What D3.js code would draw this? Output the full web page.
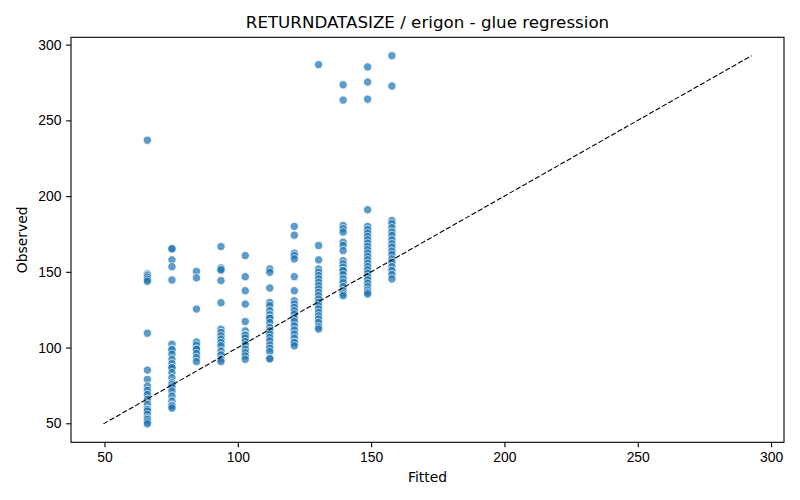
<!DOCTYPE html>
<html>
<head>
  <meta charset="utf-8">
  <script src="https://d3js.org/d3.v7.min.js"></script>
  <style>
    body { margin: 0; background: white; }
    svg { font-family: "DejaVu Sans", sans-serif; }
    .tick text { font-size: 13.9px; fill: #000; }
    .tick line { stroke: #000; stroke-width: 1.1px; }
    .domain { display: none; }
  </style>
</head>
<body>
<script>
  // fitted level of each column
  var fitted = [66.1, 75.3, 84.5, 93.7, 102.8, 112.0, 121.2, 130.3, 139.5, 148.7, 157.8];

  // observed values, one array per fitted level
  var obs1 = [236.9, 148.6, 147.5, 146.4, 145, 143.7, 109.5, 85.1, 79, 74.5, 71.7, 69, 65.7, 62.4, 59.1, 59.1, 58, 55.8, 53.5, 52.5, 51, 49.6];
  var obs2 = [165.2, 165.2, 157.9, 153.4, 144.6, 102.2, 98.9, 98.5, 95.6, 92.2, 89.3, 86.7, 86.7, 83.4, 80, 76.7, 75.5, 73.9, 71.2, 67.9, 64.6, 62, 61.3, 60];
  var obs3 = [150.3, 146, 125.4, 103.7, 101.5, 98.9, 98.9, 96, 93.3, 90.7];
  var obs4 = [166.7, 152.6, 150.8, 151.5, 144.2, 129.6, 112.1, 109.9, 107.7, 105.5, 103.3, 101.1, 97.7, 95.1, 92.2, 90.7];
  var obs5 = [160.7, 146.8, 137.5, 128.7, 117.2, 111, 108.4, 108, 106.2, 103.9, 101.7, 98.9, 96.6, 94.4, 92.2];
  var obs6 = [151.9, 149.7, 139.3, 129.8, 127.6, 124.3, 121.6, 119.4, 119.4, 116.5, 113.2, 111, 108.8, 106.6, 104.4, 101.7, 99.5, 97.3, 92.6, 92.6];
  var obs7 = [180, 174.2, 162.3, 160.7, 158.5, 146.8, 137.5, 130.9, 128.7, 126.5, 124.3, 122.1, 119.4, 117.2, 114.3, 111.5, 108.8, 106.2, 103.3, 103.3, 101.1];
  var obs8 = [286.8, 167.4, 157.9, 151.9, 149.7, 147.5, 145.3, 143, 140.8, 138.6, 136.4, 134.2, 132, 129.8, 127.6, 125.4, 123.1, 120.9, 118.8, 116.5, 113.7, 112.2];
  var obs9 = [273.5, 263.4, 180.6, 178.4, 176.2, 169.6, 167.4, 164, 157.4, 155.2, 153, 150.8, 150.8, 148.1, 145.3, 143, 140.2, 137.5, 135.5, 134.2];
  var obs10 = [285.3, 275.3, 264, 191, 180, 177.8, 175.5, 173.3, 171.1, 168.9, 166.7, 164.5, 162.3, 160.1, 157.9, 155.6, 153.4, 151.3, 149, 146.8, 144.6, 142.4, 140.2, 138, 136.5, 135.3];
  var obs11 = [292.7, 272.7, 183.9, 181.8, 179.1, 176.2, 174, 171.1, 168.5, 166.3, 163.6, 161.4, 158.5, 156.3, 153.4, 150.8, 148.1, 145.3];

  var xTicks = [50, 100, 150, 200, 250, 300];
  var yTicks = [50, 100, 150, 200, 250, 300];

  var columns = [obs1, obs2, obs3, obs4, obs5, obs6, obs7, obs8, obs9, obs10, obs11];
  var points = [];
  columns.forEach(function(col, i) {
    col.forEach(function(v) { points.push({x: fitted[i], y: v}); });
  });

  var width = 800, height = 500;
  var margin = {top: 37.3, right: 16, bottom: 57.7, left: 71};

  // same limits on both axes: min/max of everything plus 5%
  var lo = d3.min(points, function(d) { return Math.min(d.x, d.y); });
  var hi = d3.max(points, function(d) { return Math.max(d.x, d.y); });
  var pad = (hi - lo) * 0.05;

  var x = d3.scaleLinear().domain([lo - pad, hi + pad]).range([margin.left, width - margin.right]);
  var y = d3.scaleLinear().domain([lo - pad, hi + pad]).range([height - margin.bottom, margin.top]);

  var svg = d3.select("body").append("svg")
      .attr("width", width)
      .attr("height", height);

  svg.append("g")
      .attr("class", "axis")
      .attr("transform", "translate(0," + (height - margin.bottom) + ")")
      .call(d3.axisBottom(x).tickValues(xTicks).tickSize(4.9).tickPadding(4.6).tickFormat(d3.format("d")));

  svg.append("g")
      .attr("class", "axis")
      .attr("transform", "translate(" + margin.left + ",0)")
      .call(d3.axisLeft(y).tickValues(yTicks).tickSize(4.9).tickPadding(4.6).tickFormat(d3.format("d")));

  svg.append("g").selectAll("circle")
      .data(points)
      .enter()
      .append("circle")
      .attr("cx", function(d) { return x(d.x); })
      .attr("cy", function(d) { return y(d.y); })
      .attr("r", 4.2)
      .attr("fill", "#1f77b4")
      .attr("stroke", "white")
      .attr("stroke-width", 0.9)
      .attr("opacity", 0.72);

  // y = x reference
  svg.append("line")
      .attr("x1", x(lo)).attr("y1", y(lo))
      .attr("x2", x(hi)).attr("y2", y(hi))
      .attr("stroke", "black")
      .attr("stroke-width", 1.1)
      .attr("stroke-dasharray", "5.1,2.2");

  // frame
  svg.append("rect")
      .attr("x", margin.left)
      .attr("y", margin.top)
      .attr("width", width - margin.left - margin.right)
      .attr("height", height - margin.top - margin.bottom)
      .attr("fill", "none")
      .attr("stroke", "black")
      .attr("stroke-width", 1.1);

  svg.append("text")
      .attr("x", (margin.left + width - margin.right) / 2)
      .attr("y", 28)
      .attr("text-anchor", "middle")
      .style("font-size", "16.7px")
      .text("RETURNDATASIZE / erigon - glue regression");

  svg.append("text")
      .attr("x", (margin.left + width - margin.right) / 2)
      .attr("y", 482)
      .attr("text-anchor", "middle")
      .style("font-size", "13.9px")
      .text("Fitted");

  svg.append("text")
      .attr("transform", "translate(27," + ((margin.top + height - margin.bottom) / 2) + ") rotate(-90)")
      .attr("text-anchor", "middle")
      .style("font-size", "13.9px")
      .text("Observed");
</script>
</body>
</html>
